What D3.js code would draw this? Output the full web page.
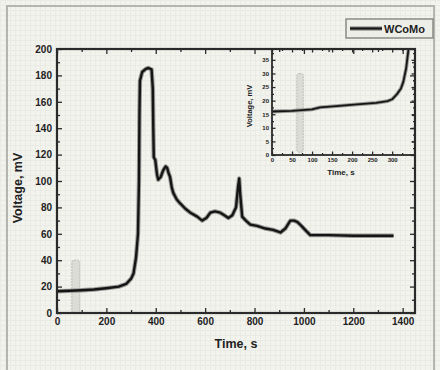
<!DOCTYPE html>
<html>
<head>
<meta charset="utf-8">
<script src="https://cdn.jsdelivr.net/npm/d3@7"></script>
<style>
  body { margin: 0; background: #f3f3ee; }
  svg { display: block; }
  text { font-family: "Liberation Sans", Arial, sans-serif; fill: #222; }
</style>
</head>
<body>
<svg id="chart" width="440" height="370"></svg>
<script>
// main curve (time s, voltage mV)
var mainTime = [0, 50, 100, 150, 200, 250, 280, 300, 310, 320, 328, 332, 334, 336, 345, 360, 370, 383, 388, 390, 392,
    398, 405, 410, 420, 430, 440, 446, 452, 458, 465, 471, 485, 499, 520, 540, 568, 588, 605, 621, 640, 661, 678,
    694, 710, 725, 733, 738, 742, 750, 765, 783, 810, 844, 875, 905, 925, 945, 960, 973, 990, 1010, 1026, 1100,
    1200, 1363];
var mainVolt = [16.5, 16.8, 17.2, 17.8, 18.8, 20, 22, 26, 30, 42, 60, 100, 150, 176, 182.6, 185, 185.6, 184.5, 170, 140, 118,
    116, 105, 101, 103, 108, 111, 110, 106, 103, 95, 91, 86, 83, 79, 76, 73, 70, 72, 76, 77, 76, 74,
    72, 74, 80, 95, 102, 90, 73, 70, 67, 66, 64, 63, 61, 64, 70, 70, 69, 66, 62, 59, 59,
    58.5, 58.5];

// inset curve (zoom of the first seconds)
var insetTime = [0, 50, 100, 120, 160, 212, 260, 288, 300, 312, 322, 328, 335, 340, 345];
var insetVolt = [16, 16.2, 16.8, 17.5, 18, 18.6, 19.2, 19.8, 20.5, 22.4, 24.5, 27, 32, 38, 44];

var mainXTicks = [0, 200, 400, 600, 800, 1000, 1200, 1400];
var mainYTicks = [0, 20, 40, 60, 80, 100, 120, 140, 160, 180, 200];
var insetXTicks = [0, 50, 100, 150, 200, 250, 300];
var insetYTicks = [0, 5, 10, 15, 20, 25, 30, 35];

// shaded marker bands [t0, t1, v0, v1]
var mainBand = [60, 92, 0, 40];
var insetBand = [62, 78, 1, 30];

var seriesName = "WCoMo";

var svg = d3.select("#chart");
var ink = "#2a2a2a";

// faint paper texture
var pat = svg.append("defs").append("pattern")
    .attr("id", "paper").attr("width", 5).attr("height", 5)
    .attr("patternUnits", "userSpaceOnUse");
pat.append("rect").attr("width", 5).attr("height", 5).attr("fill", "#f3f3ee");
pat.append("path").attr("d", "M0 0.5H5M0.5 0V5").attr("stroke", "#ebebe5").attr("stroke-width", 1);
svg.append("rect").attr("width", 440).attr("height", 370).attr("fill", "url(#paper)");

// outer frame
svg.append("rect").attr("x", 7).attr("y", 6).attr("width", 427).attr("height", 380)
    .attr("fill", "none").attr("stroke", "#b5b5b0").attr("stroke-width", 2);

function drawFrame(g, x, y, opts) {
    var xr = x.range(), yr = y.range();
    var w = xr[1] - xr[0], h = yr[0] - yr[1];
    var fmt = d3.format("d");

    // minor ticks first
    g.append("g").attr("transform", "translate(0," + yr[0] + ")")
        .call(d3.axisBottom(x).tickValues(opts.xMinor).tickSize(-opts.minor).tickFormat(""));
    g.append("g").attr("transform", "translate(0," + yr[1] + ")")
        .call(d3.axisTop(x).tickValues(opts.xMinor).tickSize(-opts.minor).tickFormat(""));
    g.append("g").attr("transform", "translate(" + xr[0] + ",0)")
        .call(d3.axisLeft(y).tickValues(opts.yMinor).tickSize(-opts.minor).tickFormat(""));
    g.append("g").attr("transform", "translate(" + xr[1] + ",0)")
        .call(d3.axisRight(y).tickValues(opts.yMinor).tickSize(-opts.minor).tickFormat(""));

    // major ticks + labels
    g.append("g").attr("class", "lab").attr("transform", "translate(0," + yr[0] + ")")
        .call(d3.axisBottom(x).tickValues(opts.xTicks).tickSize(-opts.major).tickPadding(opts.pad).tickFormat(fmt));
    g.append("g").attr("transform", "translate(0," + yr[1] + ")")
        .call(d3.axisTop(x).tickValues(opts.xTicks).tickSize(-opts.major).tickFormat(""));
    g.append("g").attr("class", "lab").attr("transform", "translate(" + xr[0] + ",0)")
        .call(d3.axisLeft(y).tickValues(opts.yTicks).tickSize(-opts.major).tickPadding(opts.pad).tickFormat(fmt));
    g.append("g").attr("transform", "translate(" + xr[1] + ",0)")
        .call(d3.axisRight(y).tickValues(opts.yTicks).tickSize(-opts.major).tickFormat(""));

    g.selectAll(".domain").remove();
    g.selectAll(".tick line").attr("stroke", ink).attr("stroke-width", 1.3);
    g.selectAll(".lab text").attr("font-size", opts.font).attr("font-weight", "bold")
        .attr("fill", "#2a2a2a").attr("font-family", "Liberation Sans, Arial, sans-serif");

    g.append("rect").attr("x", xr[0]).attr("y", yr[1]).attr("width", w).attr("height", h)
        .attr("fill", "none").attr("stroke", ink).attr("stroke-width", opts.frame);
}

function drawCurve(g, x, y, ts, vs, width, clipId) {
    var pts = ts.map(function(t, i) { return [t, vs[i]]; });
    var line = d3.line().x(function(d) { return x(d[0]); }).y(function(d) { return y(d[1]); });
    var cg = g.append("g");
    if (clipId) cg.attr("clip-path", "url(#" + clipId + ")");
    cg.append("path").datum(pts).attr("d", line).attr("fill", "none")
        .attr("stroke", "#9a9a96").attr("stroke-width", width + 2).attr("stroke-linejoin", "round");
    cg.append("path").datum(pts).attr("d", line).attr("fill", "none")
        .attr("stroke", "#151515").attr("stroke-width", width).attr("stroke-linejoin", "round");
}

function drawBand(g, x, y, b) {
    g.append("rect")
        .attr("x", x(b[0])).attr("y", y(b[3]))
        .attr("width", x(b[1]) - x(b[0])).attr("height", y(b[2]) - y(b[3]))
        .attr("rx", 2)
        .attr("fill", "#dcdcd6").attr("stroke", "#bdbdb8").attr("stroke-width", 1)
        .attr("stroke-dasharray", "2,1");
}

// ---- main chart
var x = d3.scaleLinear().domain([0, 1450]).range([57, 415]);
var y = d3.scaleLinear().domain([0, 200]).range([313, 49]);
var main = svg.append("g");

drawBand(main, x, y, mainBand);
drawCurve(main, x, y, mainTime, mainVolt, 2.4);
drawFrame(main, x, y, {
    xTicks: mainXTicks, yTicks: mainYTicks,
    xMinor: d3.range(100, 1450, 200), yMinor: d3.range(10, 200, 20),
    major: 5, minor: 3, pad: 5, font: 10, frame: 2.2
});

svg.append("text").attr("x", 236).attr("y", 348).attr("text-anchor", "middle")
    .attr("font-size", 12.5).attr("font-weight", "bold").text("Time, s");
svg.append("text").attr("transform", "translate(22,188) rotate(-90)").attr("text-anchor", "middle")
    .attr("font-size", 12.5).attr("font-weight", "bold").text("Voltage, mV");

// ---- inset
var ix = d3.scaleLinear().domain([0, 357]).range([272, 415]);
var iy = d3.scaleLinear().domain([0, 39]).range([155, 49]);
var inset = svg.append("g");
inset.append("clipPath").attr("id", "insetClip").append("rect")
    .attr("x", 272).attr("y", 49).attr("width", 143).attr("height", 106);

drawBand(inset, ix, iy, insetBand);
drawCurve(inset, ix, iy, insetTime, insetVolt, 1.8, "insetClip");
drawFrame(inset, ix, iy, {
    xTicks: insetXTicks, yTicks: insetYTicks,
    xMinor: d3.range(25, 357, 50), yMinor: d3.range(2.5, 39, 5),
    major: 3.5, minor: 2, pad: 3, font: 6, frame: 1.8
});

svg.append("text").attr("x", 341).attr("y", 175).attr("text-anchor", "middle")
    .attr("font-size", 8).attr("font-weight", "bold").text("Time, s");
svg.append("text").attr("transform", "translate(252,106) rotate(-90)").attr("text-anchor", "middle")
    .attr("font-size", 7.5).attr("font-weight", "bold").text("Voltage, mV");

// ---- legend
var leg = svg.append("g");
leg.append("rect").attr("x", 346).attr("y", 19).attr("width", 87).attr("height", 19)
    .attr("fill", "#eeeee9").attr("stroke", "#8a8a86").attr("stroke-width", 1.5);
leg.append("line").attr("x1", 350).attr("x2", 382).attr("y1", 28.5).attr("y2", 28.5)
    .attr("stroke", "#9a9a96").attr("stroke-width", 4.5);
leg.append("line").attr("x1", 350).attr("x2", 382).attr("y1", 28.5).attr("y2", 28.5)
    .attr("stroke", "#151515").attr("stroke-width", 2.2);
leg.append("text").attr("x", 384).attr("y", 32.5).attr("font-size", 11)
    .attr("font-weight", "bold").text(seriesName);
</script>
</body>
</html>
